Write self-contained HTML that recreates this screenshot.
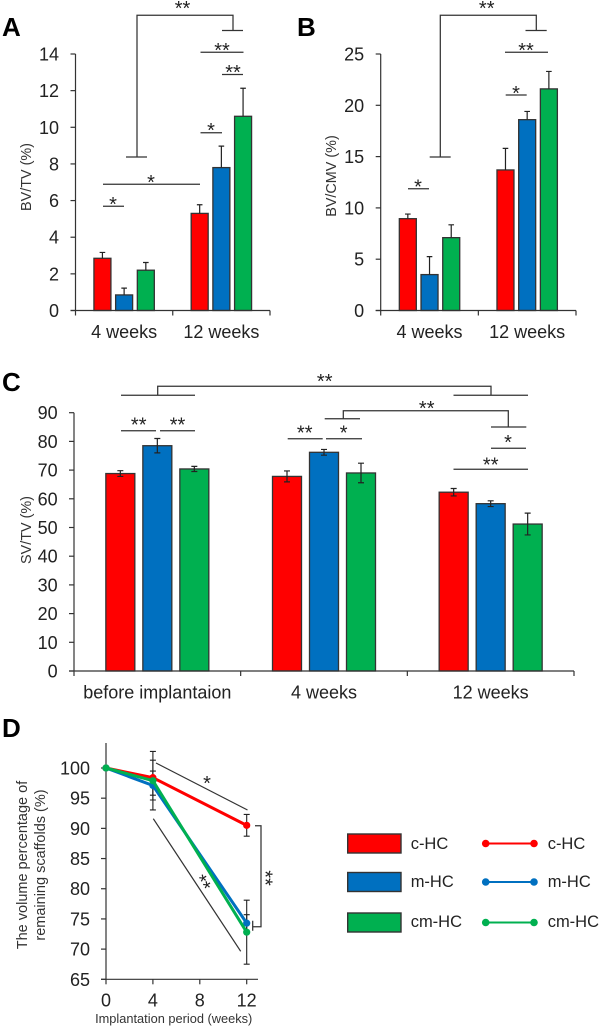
<!DOCTYPE html>
<html lang="en">
<head>
<meta charset="utf-8">
<title>Scaffold bone volume charts</title>
<style>
html,body{margin:0;padding:0;background:#fff;width:600px;height:1028px;overflow:hidden}
svg{display:block;font-family:"Liberation Sans",sans-serif;fill:#222;filter:blur(0.3px)}
.panel{font-size:26px;font-weight:bold;fill:#000}
.tick{font-size:18px}
.title{font-size:14.4px;fill:#333}
.star{font-size:20px;text-anchor:middle;fill:#222}
.leg{font-size:16.5px}
.ann line,.ann path{stroke:#333;stroke-width:1.25;fill:none}
</style>
</head>
<body>
<svg id="figure" width="600" height="1028" viewBox="0 0 600 1028" xmlns="http://www.w3.org/2000/svg">
  <text class="panel" x="2" y="36">A</text>
  <text class="panel" x="297" y="36">B</text>
  <text class="panel" x="2" y="391">C</text>
  <text class="panel" x="2" y="737">D</text>

  <g class="ann">
    <path d="M126 157H147M137 157V15.3H233V30.5M222 30.5H243"/>
    <text class="star" x="182.5" y="15">**</text>
    <line x1="200.5" y1="52.3" x2="243.5" y2="52.3"/>
    <text class="star" x="222" y="57">**</text>
    <line x1="222" y1="74.5" x2="243" y2="74.5"/>
    <text class="star" x="233" y="79">**</text>
    <line x1="200.5" y1="132.7" x2="222" y2="132.7"/>
    <text class="star" x="211" y="137">*</text>
    <line x1="103" y1="184.3" x2="200" y2="184.3"/>
    <text class="star" x="151" y="189">*</text>
    <line x1="103" y1="206.3" x2="124" y2="206.3"/>
    <text class="star" x="113" y="211">*</text>
  </g>

  <g class="ann">
    <path d="M429.7 157H450.7M440.3 157V15.3H536.3V30.5M525.5 30.5H546.7"/>
    <text class="star" x="486.7" y="15">**</text>
    <line x1="505" y1="52.3" x2="548" y2="52.3"/>
    <text class="star" x="526" y="57">**</text>
    <line x1="505.7" y1="95" x2="526.7" y2="95"/>
    <text class="star" x="516" y="100">*</text>
    <line x1="408" y1="188.7" x2="429" y2="188.7"/>
    <text class="star" x="418" y="193.5">*</text>
  </g>

  <g class="ann">
    <path d="M121 395.3H195M157.7 395.3V386.3H491V395.3M453.5 395.3H528"/>
    <text class="star" x="324.7" y="388">**</text>
    <line x1="121" y1="430.7" x2="156" y2="430.7"/>
    <text class="star" x="138.7" y="431.5">**</text>
    <line x1="160" y1="430.7" x2="195" y2="430.7"/>
    <text class="star" x="177.5" y="431.5">**</text>
    <line x1="287.7" y1="438.7" x2="322.7" y2="438.7"/>
    <text class="star" x="304.7" y="439.5">**</text>
    <line x1="326" y1="438.7" x2="362" y2="438.7"/>
    <text class="star" x="343.7" y="439.5">*</text>
    <path d="M324.7 418.7H360M343.3 418.7V410.7H508.3V427M491 427H526.3"/>
    <text class="star" x="426.7" y="415">**</text>
    <line x1="491" y1="448.3" x2="526" y2="448.3"/>
    <text class="star" x="508" y="449">*</text>
    <line x1="453.5" y1="469.3" x2="528" y2="469.3"/>
    <text class="star" x="490.7" y="471.7">**</text>
  </g>

  <g class="ann">
    <line x1="156" y1="763" x2="247.5" y2="810"/>
    <text class="star" x="207" y="790">*</text>
    <line x1="153.3" y1="818.7" x2="240.7" y2="951.3"/>
    <text class="star" x="205.7" y="892" transform="rotate(60 205.7 881)">**</text>
    <path d="M255 825.7H261V926.7H252.7M252.7 920.7V930.7"/>
    <text class="star" x="269.3" y="889" transform="rotate(90 269.3 878)">**</text>
  </g>

  <g id="bar-a"></g>
  <g id="bar-b"></g>
  <g id="bar-c"></g>
  <g id="line-d"></g>

  <g>
    <rect x="347.7" y="834" width="53.3" height="19" fill="#ff0000" stroke="#333" stroke-width="1.4"/>
    <text class="leg" x="410.7" y="849">c-HC</text>
    <rect x="347.7" y="872.5" width="53.3" height="19" fill="#0070c0" stroke="#333" stroke-width="1.4"/>
    <text class="leg" x="410.7" y="887">m-HC</text>
    <rect x="347.7" y="913" width="53.3" height="19" fill="#00b050" stroke="#333" stroke-width="1.4"/>
    <text class="leg" x="410.7" y="927">cm-HC</text>

    <g><line x1="485.7" y1="843.5" x2="534" y2="843.5" stroke="#ff0000" stroke-width="2"/><circle cx="485.7" cy="843.5" r="3.8" fill="#ff0000"/><circle cx="534" cy="843.5" r="3.8" fill="#ff0000"/></g>
    <text class="leg" x="547.7" y="849">c-HC</text>
    <g><line x1="485.7" y1="882" x2="534" y2="882" stroke="#0070c0" stroke-width="2"/><circle cx="485.7" cy="882" r="3.8" fill="#0070c0"/><circle cx="534" cy="882" r="3.8" fill="#0070c0"/></g>
    <text class="leg" x="547.7" y="887">m-HC</text>
    <g><line x1="485.7" y1="922.5" x2="534" y2="922.5" stroke="#00b050" stroke-width="2"/><circle cx="485.7" cy="922.5" r="3.8" fill="#00b050"/><circle cx="534" cy="922.5" r="3.8" fill="#00b050"/></g>
    <text class="leg" x="547.7" y="927">cm-HC</text>
  </g>
</svg>

<script>
// Shared
const seriesNames = ['c-HC', 'm-HC', 'cm-HC'];
const seriesColors = ['#ff0000', '#0070c0', '#00b050'];

// Panel A: BV/TV
const aCategories = ['4 weeks', '12 weeks'];
const aValues = [[2.85, 5.3], [0.85, 7.8], [2.2, 10.6]];
const aErrors = [[0.32, 0.47], [0.37, 1.17], [0.42, 1.53]];
const aTicks = [0, 2, 4, 6, 8, 10, 12, 14];

// Panel B: BV/CMV
const bCategories = ['4 weeks', '12 weeks'];
const bValues = [[8.95, 13.7], [3.5, 18.6], [7.1, 21.6]];
const bErrors = [[0.45, 2.1], [1.75, 0.8], [1.25, 1.7]];
const bTicks = [0, 5, 10, 15, 20, 25];

// Panel C: SV/TV
const cCategories = ['before implantaion', '4 weeks', '12 weeks'];
const cValues = [[68.8, 67.8, 62.3], [78.5, 76.2, 58.3], [70.4, 69, 51.2]];
const cErrors = [[1, 1.9, 1.3], [2.5, 1, 1], [0.9, 3.4, 3.8]];
const cTicks = [0, 10, 20, 30, 40, 50, 60, 70, 80, 90];

// Panel D: remaining volume
const dWeeks = [0, 4, 12];
const dValues = [[100, 98.4, 90.5], [100, 97.1, 74.3], [100, 97.9, 72.8]];
const dErrors = [[0, 2.9, 1.8], [0, 2.4, 1.4], [0, 4.85, 5.3]];
const dTicksY = [65, 70, 75, 80, 85, 90, 95, 100];
const dTicksX = [0, 4, 8, 12];

const NS = 'http://www.w3.org/2000/svg';
function add(parent, tag, attrs, txt) {
  const el = document.createElementNS(NS, tag);
  for (const k in attrs) el.setAttribute(k, attrs[k]);
  if (txt !== undefined) el.textContent = txt;
  parent.appendChild(el);
  return el;
}

function barChart(o) {
  const root = document.getElementById(o.id);
  const yScale = v => o.y0 + (o.yTop - o.y0) * (v - o.ticks[0]) / (o.ticks[o.ticks.length - 1] - o.ticks[0]);
  const band = (o.x1 - o.x0) / o.categories.length;
  const center = i => o.x0 + band * (i + 0.5);

  o.series.forEach((vals, s) => {
    vals.forEach((v, c) => {
      const bx = center(c) + (s - 1) * o.pitch - o.barW / 2;
      const cx = center(c) + (s - 1) * o.pitch;
      const err = o.errors[s][c];
      const top = yScale(v + err);
      const bottom = o.twoSided ? yScale(v - err) : yScale(v);
      const bar = add(root, 'rect', { x: bx, y: yScale(v), width: o.barW, height: o.y0 - yScale(v), fill: seriesColors[s], stroke: '#333', 'stroke-width': 1.3 });
      
      
      const eb = add(root, 'path', { d: 'M' + cx + ' ' + bottom + 'V' + top + 'M' + (cx - o.cap) + ' ' + top + 'H' + (cx + o.cap) + (o.twoSided ? 'M' + (cx - o.cap) + ' ' + bottom + 'H' + (cx + o.cap) : ''), stroke: '#222', 'stroke-width': 1.2, fill: 'none' });
      
      
    });
  });

  const yAxis = add(root, 'line', { x1: o.x0, y1: o.yTop, x2: o.x0, y2: o.y0, stroke: '#333', 'stroke-width': 1.2 });
  
  
  const xAxis = add(root, 'line', { x1: o.x0 - 5, y1: o.y0, x2: o.x1, y2: o.y0, stroke: '#333', 'stroke-width': 1.2 });
  
  

  o.ticks.forEach(t => {
    const y = yScale(t);
    const tm = add(root, 'line', { x1: o.x0 - 5, y1: y, x2: o.x0, y2: y, stroke: '#333', 'stroke-width': 1.2 });
    
    
    const lb = add(root, 'text', { class: 'tick', x: o.x0 - o.labelGap, y: y + 6.5, 'text-anchor': 'end' }, String(t));
    
    
  });
  for (let i = 0; i <= o.categories.length; i++) {
    const x = o.x0 + band * i;
    const tm = add(root, 'line', { x1: x, y1: o.y0, x2: x, y2: o.y0 + 5, stroke: '#333', 'stroke-width': 1.2 });
    
    
  }
  o.categories.forEach((c, i) => {
    const lb = add(root, 'text', { class: 'tick', x: center(i), y: o.y0 + 27.5, 'text-anchor': 'middle' }, c);
    
    
  });
  const title = add(root, 'text', { class: 'title', x: 0, y: 0, 'text-anchor': 'middle', transform: 'translate(' + o.titleX + ' ' + o.titleY + ') rotate(-90)' }, o.title);
  
  
}

barChart({ id: 'bar-a', x0: 75.5, x1: 270, y0: 310.5, yTop: 54, ticks: aTicks, categories: aCategories, series: aValues, errors: aErrors, pitch: 21.7, barW: 17, cap: 2.8, twoSided: false, labelGap: 16.5, title: 'BV/TV (%)', titleX: 31, titleY: 177 });
barChart({ id: 'bar-b', x0: 380.7, x1: 576, y0: 310.5, yTop: 54, ticks: bTicks, categories: bCategories, series: bValues, errors: bErrors, pitch: 21.7, barW: 17, cap: 2.8, twoSided: false, labelGap: 16.5, title: 'BV/CMV (%)', titleX: 336, titleY: 176 });
barChart({ id: 'bar-c', x0: 74, x1: 574, y0: 671, yTop: 412.7, ticks: cTicks, categories: cCategories, series: cValues, errors: cErrors, pitch: 37, barW: 29, cap: 3, twoSided: true, labelGap: 16.3, title: 'SV/TV (%)', titleX: 31, titleY: 530 });

(function lineChart() {
  const root = document.getElementById('line-d');
  const x0 = 106, xEnd = 258, y0 = 979.3, yTop = 743;
  const xs = w => 106 + (246.7 - 106) * w / 12;
  const ys = v => 979.3 + (768 - 979.3) * (v - 65) / 35;

  const yAxis = add(root, 'line', { x1: x0, y1: yTop, x2: x0, y2: y0, stroke: '#333', 'stroke-width': 1.2 });
  
  
  const xAxis = add(root, 'line', { x1: x0 - 5, y1: y0, x2: xEnd, y2: y0, stroke: '#333', 'stroke-width': 1.2 });
  
  

  dTicksY.forEach(t => {
    const tm = add(root, 'line', { x1: x0 - 5, y1: ys(t), x2: x0, y2: ys(t), stroke: '#333', 'stroke-width': 1.2 });
    
    
    const lb = add(root, 'text', { class: 'tick', x: x0 - 16, y: ys(t) + 6.5, 'text-anchor': 'end' }, String(t));
    
    
  });
  dTicksX.forEach(t => {
    const tm = add(root, 'line', { x1: xs(t), y1: y0, x2: xs(t), y2: y0 + 5, stroke: '#333', 'stroke-width': 1.2 });
    
    
    const lb = add(root, 'text', { class: 'tick', x: xs(t), y: 1006.7, 'text-anchor': 'middle' }, String(t));
    
    
  });

  dErrors.forEach((errs, s) => {
    errs.forEach((e, i) => {
      if (!e) return;
      const x = xs(dWeeks[i]), hi = ys(dValues[s][i] + e), lo = ys(dValues[s][i] - e);
      const eb = add(root, 'path', { d: 'M' + x + ' ' + lo + 'V' + hi + 'M' + (x - 3) + ' ' + hi + 'H' + (x + 3) + 'M' + (x - 3) + ' ' + lo + 'H' + (x + 3), stroke: '#222', 'stroke-width': 1.1, fill: 'none' });
      
      
    });
  });

  dValues.forEach((vals, s) => {
    const pts = vals.map((v, i) => xs(dWeeks[i]) + ',' + ys(v)).join(' ');
    const line = add(root, 'polyline', { points: pts, fill: 'none', stroke: seriesColors[s], 'stroke-width': 3 });
    
    
    vals.forEach((v, i) => {
      const pt = add(root, 'circle', { cx: xs(dWeeks[i]), cy: ys(v), r: 3.6, fill: seriesColors[s] });
      
      
    });
  });

  const t1 = add(root, 'text', { class: 'title', x: 0, y: 0, 'text-anchor': 'middle', transform: 'translate(27 865) rotate(-90)', style: 'font-size:14.5px' }, 'The volume percentage of');
  
  
  const t2 = add(root, 'text', { class: 'title', x: 0, y: 0, 'text-anchor': 'middle', transform: 'translate(45 865) rotate(-90)', style: 'font-size:14.5px' }, 'remaining scaffolds (%)');
  
  
  const xt = add(root, 'text', { class: 'title', x: 173.7, y: 1023, 'text-anchor': 'middle', style: 'font-size:12.8px' }, 'Implantation period (weeks)');
  
  
})();
</script>
</body>
</html>
